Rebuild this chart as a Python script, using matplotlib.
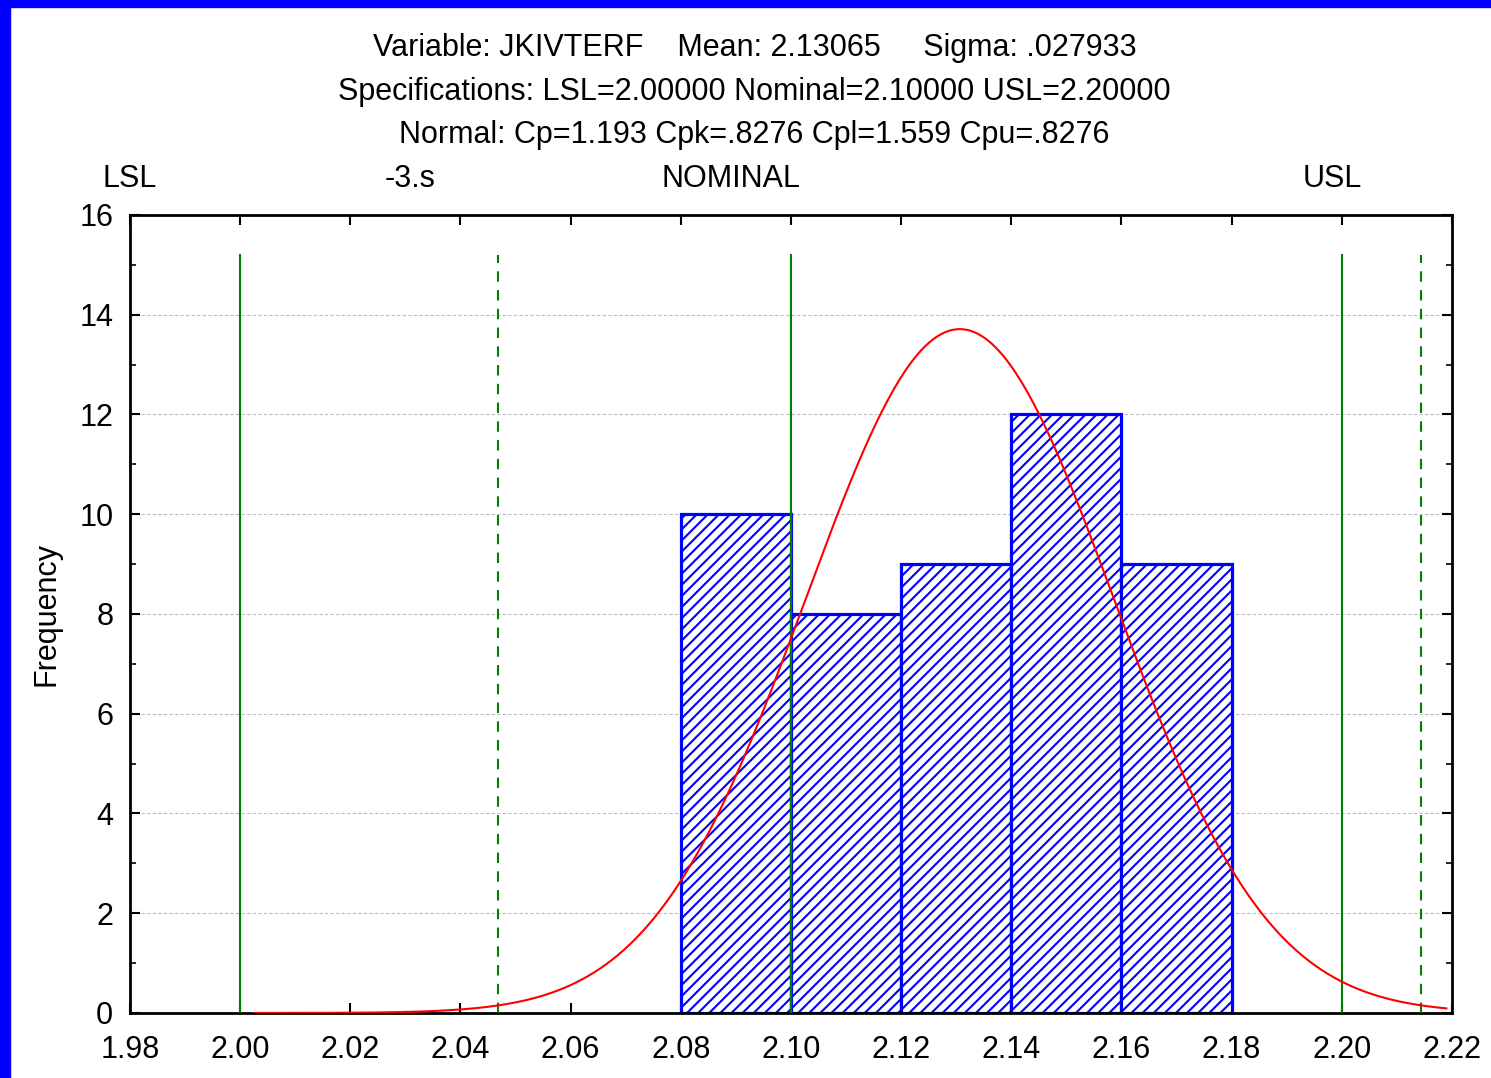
import numpy as np
import matplotlib.pyplot as plt
from matplotlib.patches import Rectangle

plt.rcParams["font.family"] = ["Liberation Sans", "DejaVu Sans"]
plt.rcParams["hatch.linewidth"] = 1.5

# histogram data
bin_left = [2.08, 2.10, 2.12, 2.14, 2.16]
bin_width = 0.02
counts = [10, 8, 9, 12, 9]

# process stats / specs
mean = 2.13065
sigma = 0.027933
lsl, nominal, usl = 2.00, 2.10, 2.20
spec_top = 15.2

# labels above the plot (x position in data units)
top_labels = ["LSL", "-3.s", "NOMINAL", "USL"]
top_label_x = [1.98, 2.0308, 2.0891, 2.1982]

xticks = [1.98, 2.00, 2.02, 2.04, 2.06, 2.08, 2.10, 2.12, 2.14, 2.16, 2.18, 2.20, 2.22]
yticks = [0, 2, 4, 6, 8, 10, 12, 14, 16]


def plot_capability():
    fig = plt.figure(figsize=(14.91, 10.78), dpi=100)
    ax = fig.add_axes([0.0872, 0.0603, 0.8866, 0.7403])

    ax.grid(axis="y", color="#bbbbbb", linestyle=(0, (3, 2)), linewidth=0.8)
    ax.set_axisbelow(True)

    ax.bar(bin_left, counts, width=bin_width, align="edge", facecolor="white",
           edgecolor="blue", linewidth=2.3, hatch="///", zorder=2)

    # fitted normal curve scaled to the histogram
    n = sum(counts)
    x = np.linspace(2.0025, 2.219, 400)
    y = n * bin_width / (sigma * np.sqrt(2 * np.pi)) * np.exp(-0.5 * ((x - mean) / sigma) ** 2)

    # spec lines
    for v in (lsl, nominal, usl):
        ax.plot([v, v], [0, spec_top], color="green", linewidth=1.5, zorder=3)
    for v in (mean - 3 * sigma, mean + 3 * sigma):
        ax.plot([v, v], [0, spec_top], color="green", linewidth=1.5,
                linestyle=(0, (5, 4)), zorder=3)

    ax.plot(x, y, color="red", linewidth=1.5, zorder=4)

    ax.set_xlim(1.98, 2.22)
    ax.set_ylim(0, 16)
    ax.set_xticks(xticks)
    ax.set_xticklabels([f"{t:.2f}" for t in xticks])
    ax.set_yticks(yticks)
    ax.set_yticks(range(1, 16, 2), minor=True)
    ax.tick_params(direction="in", top=True, right=True, labelsize=22,
                   length=7, width=1.5, which="major")
    ax.tick_params(direction="in", top=True, right=True, length=4, width=1.2,
                   which="minor")
    ax.tick_params(axis="x", pad=16)
    ax.tick_params(axis="y", pad=12)
    for s in ax.spines.values():
        s.set_linewidth(2)
    ax.set_ylabel("Frequency", fontsize=22, labelpad=13)

    for lab, xv in zip(top_labels, top_label_x):
        ax.text(xv, 1.045, lab, transform=ax.get_xaxis_transform(),
                ha="center", va="center", fontsize=22)

    fig.text(0.506, 0.9555, "Variable: JKIVTERF    Mean: 2.13065     Sigma: .027933",
             ha="center", va="center", fontsize=22)
    fig.text(0.506, 0.9147, "Specifications: LSL=2.00000 Nominal=2.10000 USL=2.20000",
             ha="center", va="center", fontsize=22)
    fig.text(0.506, 0.8748, "Normal: Cp=1.193 Cpk=.8276 Cpl=1.559 Cpu=.8276",
             ha="center", va="center", fontsize=22)

    # blue window frame (left and top)
    fig.patches.append(Rectangle((0, 0), 10 / 1491, 1, transform=fig.transFigure,
                                 color="blue", zorder=10))
    fig.patches.append(Rectangle((0, 1 - 7 / 1078), 1, 7 / 1078,
                                 transform=fig.transFigure, color="blue", zorder=10))

    fig.savefig("out.png", dpi=100)


if __name__ == "__main__":
    plot_capability()
